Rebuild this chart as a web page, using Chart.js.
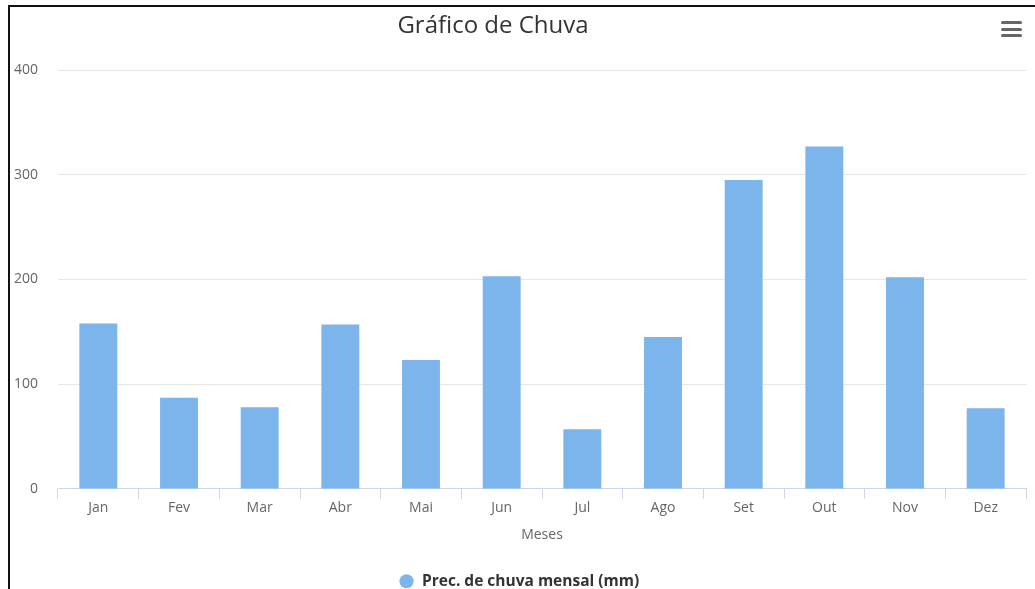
<!DOCTYPE html>
<html>
<head>
<meta charset="utf-8">
<script src="https://cdn.jsdelivr.net/npm/chart.js@4.4.1/dist/chart.umd.min.js"></script>
<style>
  html, body { margin: 0; padding: 0; background: #fff; }
  #wrap { position: relative; width: 1035px; height: 589px; overflow: hidden; font-family: "Open Sans", sans-serif; }
  #frame { position: absolute; left: 8px; top: 5px; right: 0; bottom: 0; border-left: 2px solid #111; border-top: 2px solid #111; }
  #titulo { position: absolute; top: 7px; left: 293px; width: 400px; text-align: center; font-size: 24px; color: #333; }
  #menu { position: absolute; left: 1001px; top: 21px; width: 21px; }
  #menu div { height: 3px; background: #666; border-radius: 2px; margin-bottom: 3.5px; }
  canvas { position: absolute; left: 0; top: 0; }
</style>
</head>
<body>
<div id="wrap">
  <div id="frame"></div>
  <canvas id="grafico" width="1035" height="589"></canvas>
  <div id="titulo">Gráfico de Chuva</div>
  <div id="menu"><div></div><div></div><div></div></div>
</div>
<script>
// dados
const meses = ["Jan", "Fev", "Mar", "Abr", "Mai", "Jun", "Jul", "Ago", "Set", "Out", "Nov", "Dez"];
const chuva = [158, 87, 78, 157, 123, 203, 57, 145, 295, 327, 202, 77];
const yTicks = [0, 100, 200, 300, 400];

const fonte = "'Open Sans', sans-serif";

let chart = new Chart(document.getElementById('grafico'), {
    type: 'bar',
    data: {
        labels: meses,
        datasets: [{
            label: 'Prec. de chuva mensal (mm)',
            data: chuva,
            backgroundColor: '#7cb5ec',
            borderWidth: 0,
            categoryPercentage: 1,
            barPercentage: 0.47
        }]
    },
    options: {
        responsive: false,
        animation: false,
        layout: { padding: { left: 12, right: 9, top: 70, bottom: -10 } },
        plugins: {
            tooltip: { enabled: false },
            legend: {
                position: 'bottom',
                labels: {
                    usePointStyle: true,
                    pointStyle: 'circle',
                    boxWidth: 20,
                    boxHeight: 10,
                    padding: 3,
                    color: '#333',
                    font: { family: fonte, size: 15.5, weight: 'bold' }
                }
            }
        },
        scales: {
            x: {
                grid: {
                    offset: true,
                    drawOnChartArea: false,
                    drawTicks: true,
                    tickLength: 10,
                    color: '#ccd6eb'
                },
                border: { color: '#ccd6eb', width: 1 },
                ticks: { color: '#666', padding: 1, font: { family: fonte, size: 14 } },
                title: {
                    display: true,
                    text: 'Meses',
                    color: '#666',
                    padding: { top: 9, bottom: 27 },
                    font: { family: fonte, size: 14 }
                }
            },
            y: {
                min: 0,
                max: 400,
                afterBuildTicks: function (axis) {
                    axis.ticks = yTicks.map(v => ({ value: v }));
                },
                afterFit: function (axis) { axis.width = 46; },
                grid: {
                    drawTicks: false,
                    color: ctx => ctx.tick && ctx.tick.value === 0 ? 'rgba(0,0,0,0)' : '#e6e6e6'
                },
                border: { display: false },
                ticks: { color: '#666', padding: 20, font: { family: fonte, size: 14 } }
            }
        }
    }
});
</script>
</body>
</html>
